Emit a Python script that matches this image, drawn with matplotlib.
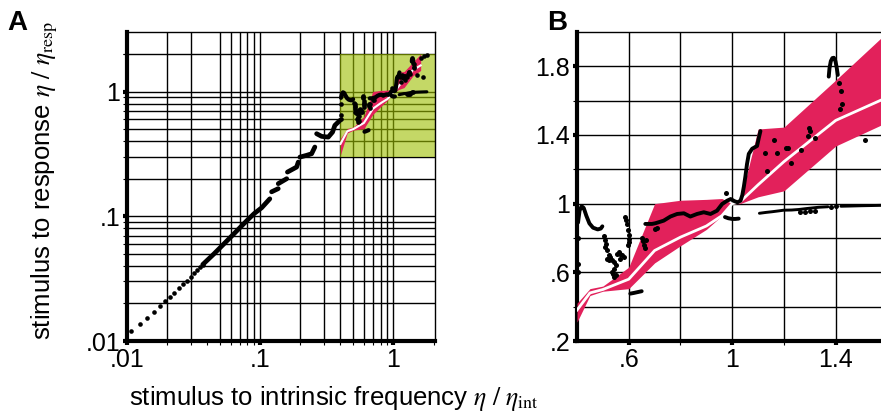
import numpy as np
import matplotlib
matplotlib.use('Agg')
import matplotlib.pyplot as plt
from matplotlib.patches import Rectangle

plt.rcParams['font.family'] = ['Liberation Sans', 'DejaVu Sans']
plt.rcParams['mathtext.fontset'] = 'stix'

RED = '#e2215b'
GREEN = (158 / 255, 190 / 255, 0.0)

# ---------------- data ----------------
# model band (mean and spread) for eta/eta_int in [0.4, 1.6]
band_x = [0.40, 0.45, 0.50, 0.60, 0.70, 0.80, 0.90, 0.96, 1.00, 1.03, 1.10, 1.20, 1.40, 1.60]
band_hi = [0.42, 0.505, 0.52, 0.63, 1.00, 1.02, 1.025, 1.03, 1.00, 1.01, 1.435, 1.446, 1.72, 2.00]
band_lo = [0.31, 0.465, 0.49, 0.505, 0.655, 0.755, 0.85, 0.93, 1.00, 1.00, 1.04, 1.075, 1.336, 1.475]
band_mean = [0.38, 0.48, 0.50, 0.56, 0.727, 0.805, 0.87, 0.93, 1.00, 1.01, 1.11, 1.245, 1.485, 1.62]

# measured response branches (continuous traces)
arc_x = [0.404, 0.41, 0.418, 0.426, 0.436, 0.448, 0.462, 0.48, 0.492, 0.498]
arc_y = [0.89, 0.96, 0.985, 0.975, 0.93, 0.885, 0.86, 0.85, 0.855, 0.868]

main_x = [0.664, 0.69, 0.703, 0.716, 0.735, 0.761, 0.787, 0.813, 0.838, 0.864, 0.890,
          0.916, 0.941, 0.961, 0.980, 0.994, 1.008, 1.02, 1.032, 1.039, 1.045, 1.051,
          1.057, 1.064, 1.077, 1.096, 1.103, 1.109]
main_y = [0.882, 0.882, 0.886, 0.892, 0.901, 0.925, 0.940, 0.944, 0.925, 0.940, 0.950,
          0.940, 0.959, 0.998, 1.017, 1.027, 1.015, 1.008, 1.017, 1.05, 1.10, 1.16,
          1.23, 1.29, 1.32, 1.336, 1.385, 1.423]

low_dash_x = [0.606, 0.62, 0.635, 0.65]
low_dash_y = [0.476, 0.48, 0.485, 0.49]

mid_dash_x = [0.972, 0.985, 1.0, 1.012, 1.025]
mid_dash_y = [0.922, 0.915, 0.911, 0.911, 0.913]

flat_x = [1.105, 1.13, 1.154, 1.18, 1.199, 1.23, 1.257, 1.29, 1.334, 1.37, np.nan,
          1.42, 1.45, 1.5, 1.57, 1.65, 1.78]
flat_y = [0.944, 0.949, 0.953, 0.958, 0.962, 0.963, 0.966, 0.972, 0.979, 0.982, np.nan,
          0.985, 0.986, 0.988, 0.99, 0.992, 0.995]

loop_x = [1.373, 1.376, 1.381, 1.387, 1.393, 1.399, 1.404, 1.408]
loop_y = [1.74, 1.79, 1.83, 1.848, 1.85, 1.83, 1.79, 1.75]

# isolated measured points
dots_x = [0.403, 0.404, 0.404,
          0.503, 0.51, 0.514, 0.51, 0.516, 0.523, 0.516, 0.529, 0.523, 0.536, 0.542,
          0.555, 0.561, 0.568, 0.574, 0.581, 0.568, 0.549, 0.542, 0.54, 0.549, 0.542, 0.536,
          0.587, 0.59, 0.593, 0.596, 0.6, 0.6, 0.6, 0.596,
          0.65, 0.655, 0.658, 0.662, 0.665, 0.703, 0.71, 0.976,
          1.128, 1.135, 1.161, 1.173, 1.208, 1.214, 1.229, 1.264, 1.293, 1.298, 1.302, 1.321,
          1.26, 1.28, 1.30, 1.32, 1.38, 1.40,
          1.413, 1.42, 1.423, 1.418, 1.512,
          1.62, 1.70, 1.78, 1.68]
dots_y = [0.80, 0.65, 0.60,
          0.812, 0.787, 0.766, 0.747, 0.728, 0.699, 0.68, 0.689, 0.67, 0.67, 0.66,
          0.708, 0.718, 0.708, 0.699, 0.689, 0.68, 0.64, 0.621, 0.592, 0.582, 0.573, 0.60,
          0.921, 0.902, 0.882, 0.844, 0.815, 0.795, 0.776, 0.757,
          0.80, 0.78, 0.76, 0.74, 0.79, 0.855, 0.86, 1.06,
          1.297, 1.191, 1.369, 1.294, 1.327, 1.327, 1.236, 1.313, 1.394, 1.443, 1.423, 1.385,
          0.952, 0.953, 0.955, 0.956, 0.983, 0.984,
          1.70, 1.655, 1.58, 1.55, 1.369,
          1.85, 1.92, 1.97, 1.30]

# panel A: low-frequency 1:1 range
diag_x = [0.0108, 0.0125, 0.0142, 0.0159, 0.0177, 0.0193, 0.0210, 0.0226, 0.0247,
          0.0265, 0.0280, 0.0300, 0.0318, 0.0337, 0.0353, 0.0369]
diag_y = [0.0120, 0.0137, 0.0154, 0.0172, 0.0191, 0.0209, 0.0226, 0.0244, 0.0264,
          0.0284, 0.0302, 0.0323, 0.0348, 0.0370, 0.0393, 0.0410]

stair_x = [0.037, 0.045, 0.055, 0.064, 0.072, 0.08, 0.09, 0.1025, 0.118, np.nan,
           0.1217, 0.1365, np.nan,
           0.1365, 0.158, np.nan,
           0.16, 0.1875, 0.193, np.nan,
           0.1985, 0.223, 0.243, 0.257, np.nan,
           0.265, 0.289, 0.324, 0.349, 0.363, 0.396]
stair_y = [0.041, 0.050, 0.062, 0.073, 0.083, 0.093, 0.105, 0.117, 0.138, np.nan,
           0.157, 0.1665, np.nan,
           0.1825, 0.200, np.nan,
           0.226, 0.248, 0.272, np.nan,
           0.298, 0.308, 0.317, 0.359, np.nan,
           0.459, 0.437, 0.431, 0.473, 0.535, 0.586]

# ---------------- figure ----------------
fig = plt.figure(figsize=(8.81, 4.19), dpi=100)
axA = fig.add_axes([127 / 881, 78 / 419, 308 / 881, 309 / 419])
axB = fig.add_axes([577 / 881, 78 / 419, 304 / 881, 309 / 419])


def draw_data(ax, lw_curve, ms, white_lw):
    ax.fill_between(band_x, band_lo, band_hi, color=RED, lw=0, zorder=3)
    ax.plot(band_x, band_mean, color='white', lw=white_lw, zorder=4)
    kw = dict(color='black', solid_capstyle='round', solid_joinstyle='round', zorder=5)
    ax.plot(arc_x, arc_y, lw=lw_curve, **kw)
    ax.plot(main_x, main_y, lw=lw_curve, **kw)
    ax.plot(low_dash_x, low_dash_y, lw=lw_curve, **kw)
    ax.plot(mid_dash_x, mid_dash_y, lw=lw_curve, **kw)
    ax.plot(flat_x, flat_y, lw=lw_curve * 0.75, **kw)
    ax.plot(loop_x, loop_y, lw=lw_curve, **kw)
    ax.scatter(dots_x, dots_y, s=ms, color='black', lw=0, zorder=5)


# ----- panel A -----
axA.set_xscale('log')
axA.set_yscale('log')
axA.set_xlim(0.01, 2.05)
axA.set_ylim(0.01, 3.0)
gridA_x = [0.02, 0.03, 0.05, 0.06, 0.07, 0.08, 0.09, 0.1,
           0.2, 0.3, 0.4, 0.5, 0.6, 0.7, 0.8, 0.9, 1.0]
gridA_y = [0.02, 0.03, 0.04, 0.05, 0.06, 0.07, 0.08, 0.09, 0.1,
           0.2, 0.3, 0.4, 0.5, 0.6, 0.7, 0.8, 0.9, 1.0, 2.0]
for v in gridA_x:
    axA.axvline(v, color='black', lw=1.0, zorder=1)
for h in gridA_y:
    axA.axhline(h, color='black', lw=1.0, zorder=1)
axA.add_patch(Rectangle((0.4, 0.3), 1.65, 1.7, facecolor=GREEN, alpha=0.6, lw=0, zorder=2))
draw_data(axA, 3.0, 11, 1.5)
axA.scatter(diag_x, diag_y, s=11, color='black', lw=0, zorder=5)
axA.plot(stair_x, stair_y, color='black', lw=3.4, solid_capstyle='round', zorder=5)

axA.set_xticks([0.01, 0.1, 1])
axA.set_xticklabels(['.01', '.1', '1'])
axA.set_yticks([0.01, 0.1, 1])
axA.set_yticklabels(['.01', '.1', '1'])
minorA = [m * d for d in (0.01, 0.1, 1) for m in range(2, 10) if m * d < 2.05]
axA.set_xticks(minorA, minor=True)
axA.set_yticks(minorA + [2.0], minor=True)
axA.xaxis.set_minor_formatter(plt.NullFormatter())
axA.yaxis.set_minor_formatter(plt.NullFormatter())

# ----- panel B -----
axB.set_xlim(0.4, 1.575)
axB.set_ylim(0.2, 2.0)
for v in [0.6, 0.8, 1.0, 1.2, 1.4]:
    axB.axvline(v, color='black', lw=1.0, zorder=1)
for h in [0.4, 0.6, 0.8, 1.0, 1.2, 1.4, 1.6, 1.8]:
    axB.axhline(h, color='black', lw=1.0, zorder=1)
draw_data(axB, 2.8, 13, 2.0)
axB.set_xticks([0.6, 1.0, 1.4])
axB.set_xticklabels(['.6', '1', '1.4'])
axB.set_xticks([0.8, 1.2], minor=True)
axB.set_yticks([0.2, 0.6, 1.0, 1.4, 1.8])
axB.set_yticklabels(['.2', '.6', '1', '1.4', '1.8'])
axB.set_yticks([0.4, 0.8, 1.2, 1.6], minor=True)

for ax in (axA, axB):
    ax.spines['left'].set_linewidth(3)
    ax.spines['bottom'].set_linewidth(3)
    ax.spines['top'].set_linewidth(1.0)
    ax.spines['right'].set_linewidth(1.0)
    ax.tick_params(which='major', direction='out', length=3, width=3, labelsize=18, pad=2)
    ax.tick_params(which='minor', direction='out', length=3, width=0.8)
axB.spines['right'].set_visible(False)

fig.text(45 / 881, 1 - 181 / 419, r'stimulus to response $\eta\ /\ \eta_{\mathrm{resp}}$',
         rotation=90, ha='center', va='center', fontsize=18.5)
fig.text(334 / 881, 1 - 398 / 419, r'stimulus to intrinsic frequency $\eta\ /\ \eta_{\mathrm{int}}$',
         ha='center', va='center', fontsize=18.5)
fig.text(7 / 881, 1 - 23 / 419, 'A', fontweight='bold', fontsize=20, va='center', ha='left')
fig.text(547 / 881, 1 - 23 / 419, 'B', fontweight='bold', fontsize=20, va='center', ha='left')

fig.savefig('out.png', dpi=100)
